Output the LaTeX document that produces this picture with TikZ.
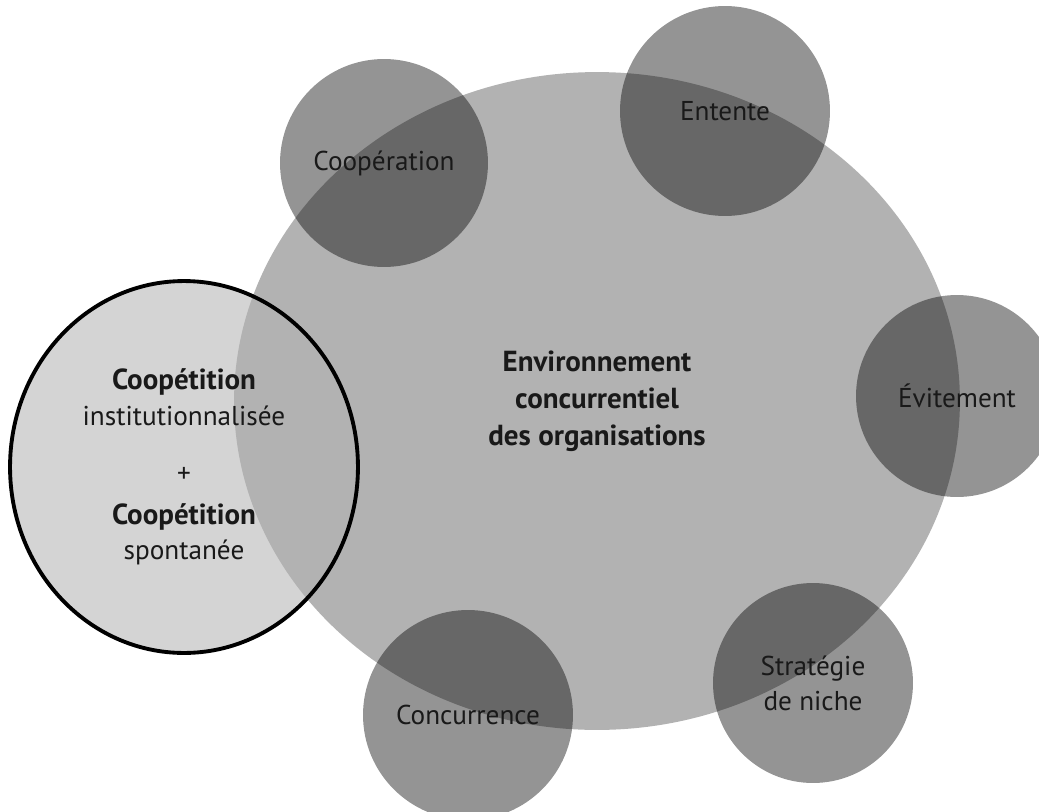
\documentclass[tikz,border=0pt]{standalone}
\usepackage{fontspec}
\setmainfont{PT Sans}
\usepackage{tikz}
\usetikzlibrary{shapes.geometric}

\begin{document}
\begin{tikzpicture}[x=0.02cm,y=-0.02cm,
  texte/.style={align=center, text=black!90, font=\fontsize{15.5}{20}\selectfont},
  milieu/.style={ellipse, fill=black!30, inner sep=0pt, minimum width=14.52cm, minimum height=13.16cm, texte, font=\bfseries\fontsize{16.5}{21}\selectfont},
  autre/.style={circle, fill=black, fill opacity=0.42, text opacity=1, inner sep=0pt, texte},
  coopfond/.style={ellipse, fill=black!17, inner sep=0pt, minimum width=6.96cm, minimum height=7.44cm},
  coopbord/.style={ellipse, draw=black, line width=2.2pt, inner sep=0pt, minimum width=6.96cm, minimum height=7.44cm, texte}]
\useasboundingbox (0,0) rectangle (1039,812);
\clip (0,0) rectangle (1039,812);
% Coopetition (fond)
\node[coopfond] (coopfond) at (184,467) {};
% Environnement concurrentiel
\node[milieu] (milieu) at (597,401) {Environnement\\concurrentiel\\des organisations};
% Autres relations
\node[autre, minimum size=4.16cm] (cooperation) at (384,163) {Coopération};
\node[autre, minimum size=4.2cm] (entente) at (725,111) {Entente};
\node[autre, minimum size=4.04cm] (evitement) at (957,396) {Évitement};
\node[autre, minimum size=4.0cm] (niche) at (813,683) {Stratégie\\de niche};
\node[autre, minimum size=4.2cm] (concurrence) at (468,715) {Concurrence};
% Coopetition (bord et texte)
\node[coopbord] (coopetition) at (coopfond) {{\bfseries\fontsize{16.5}{20}\selectfont Coopétition}\\institutionnalisée\\[12.5pt]+\\[4pt]{\bfseries\fontsize{16.5}{20}\selectfont Coopétition}\\spontanée};
\end{tikzpicture}
\end{document}
